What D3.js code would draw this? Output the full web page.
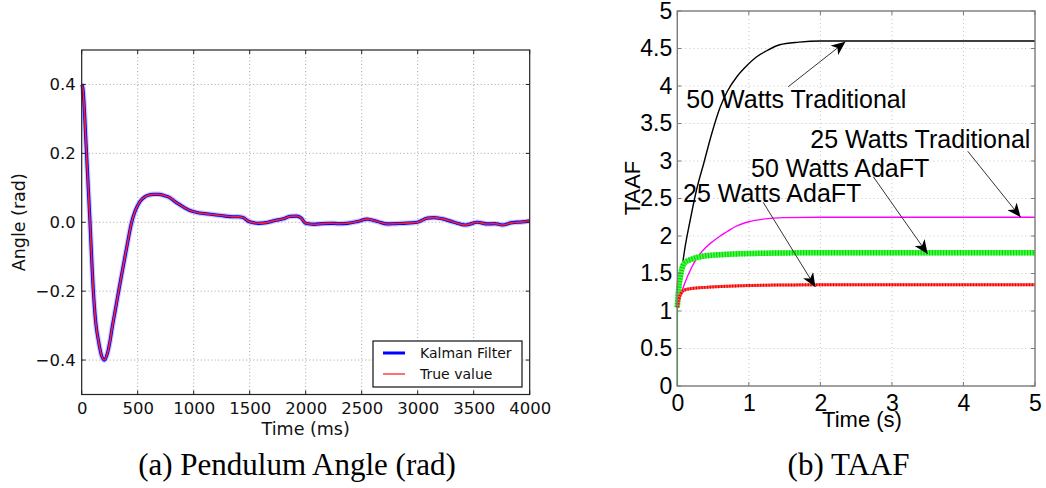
<!DOCTYPE html>
<html><head><meta charset="utf-8">
<script src="https://cdn.jsdelivr.net/npm/d3@7"></script>
<style>body{margin:0;background:#fff} svg{display:block}</style>
</head><body><svg id="c" width="1046" height="488"></svg>
<script>
// ---------- (a) Pendulum angle ----------
const angleTime = [0,10,40,74,104,125,150,175,203,230,250,275,300,327,355,381,415,446,480,520,560,600,640,690,740,790,833,880,920,960,997,1050,1131,1200,1280,1350,1399,1440,1488,1530,1578,1650,1726,1800,1860,1920,1960,2000,2074,2150,2223,2300,2372,2461,2550,2640,2729,2800,2878,2997,3086,3146,3235,3324,3428,3533,3622,3690,3756,3845,3930,4000];
const trueValue = [0.40,0.39,0.22,0.0,-0.2,-0.29,-0.345,-0.385,-0.40,-0.38,-0.35,-0.30,-0.255,-0.205,-0.155,-0.11,-0.05,0.0,0.035,0.06,0.073,0.079,0.081,0.081,0.077,0.071,0.06,0.05,0.042,0.035,0.031,0.027,0.024,0.021,0.018,0.016,0.016,0.014,0.003,-0.001,-0.003,-0.001,0.005,0.010,0.017,0.018,0.012,-0.003,-0.006,-0.004,-0.003,-0.004,-0.003,0.002,0.009,0.002,-0.005,-0.004,-0.003,0.0,0.012,0.0135,0.009,0.0,-0.008,0.0,-0.005,-0.004,-0.008,-0.001,0.001,0.004];
const kalmanValue = [0.40,0.39,0.22,0.0,-0.2,-0.29,-0.345,-0.385,-0.40,-0.38,-0.35,-0.30,-0.255,-0.205,-0.155,-0.11,-0.05,0.0,0.035,0.06,0.073,0.079,0.081,0.081,0.077,0.071,0.06,0.05,0.042,0.035,0.031,0.027,0.024,0.021,0.018,0.016,0.016,0.014,0.003,-0.001,-0.003,-0.001,0.005,0.010,0.017,0.018,0.012,-0.003,-0.006,-0.004,-0.003,-0.004,-0.003,0.002,0.009,0.002,-0.005,-0.004,-0.003,0.0,0.012,0.0135,0.009,0.0,-0.008,0.0,-0.005,-0.004,-0.008,-0.001,0.001,0.004];
const angleXTicks = [0,500,1000,1500,2000,2500,3000,3500,4000];
const angleYTicks = [-0.4,-0.2,0.0,0.2,0.4];
const angleLegend = ["Kalman Filter","True value"];

// ---------- (b) TAAF ----------
const t50Trad = [0,0.05,0.1,0.18,0.27,0.37,0.48,0.6,0.7,0.83,0.95,1.11,1.25,1.43,1.7,2.0,5];
const v50Trad = [1.05,1.45,1.8,2.21,2.62,2.97,3.36,3.72,3.93,4.12,4.25,4.39,4.47,4.55,4.585,4.6,4.6];
const t25Trad = [0,0.05,0.1,0.2,0.3,0.4,0.5,0.6,0.7,0.8,0.9,1.0,1.2,1.5,2,5];
const v25Trad = [1.05,1.22,1.36,1.58,1.74,1.85,1.93,2.0,2.06,2.12,2.16,2.19,2.225,2.245,2.25,2.25];
const t50Ada = [0,0,0.02,0.05,0.1,0.2,0.3,0.5,0.8,1.2,1.6,2,5];
const v50Ada = [0,1.05,1.3,1.5,1.64,1.69,1.72,1.745,1.76,1.77,1.775,1.777,1.777];
const t25Ada = [0,0.02,0.05,0.1,0.2,0.4,0.7,1.0,1.5,2,5];
const v25Ada = [1.05,1.15,1.23,1.28,1.30,1.315,1.33,1.34,1.347,1.35,1.35];
const taafXTicks = [0,1,2,3,4,5];
const taafYTicks = [0,0.5,1,1.5,2,2.5,3,3.5,4,4.5,5];
const taafYLabels = ["0","0.5","1","1.5","2","2.5","3","3.5","4","4.5","5"];
const annText = ["50 Watts Traditional","25 Watts Traditional","50 Watts AdaFT","25 Watts AdaFT"];
const annTextPos = [[0.126,3.71],[1.86,3.17],[1.03,2.79],[0.08,2.45]];
const annTail = [[1.55,3.99],[4.06,3.13],[2.74,2.79],[1.2,2.45]];
const annHead = [[2.35,4.59],[4.8,2.25],[3.5,1.76],[1.93,1.32]];

const svg = d3.select("#c");

// ===== Left chart =====
{
  const L = 81.7, R = 529.7, T = 50, B = 394.5;
  const x = d3.scaleLinear().domain([0,4000]).range([L,R]);
  const y = d3.scaleLinear().domain([-0.5,0.5]).range([B,T]);
  const g = svg.append("g");
  g.selectAll(".gx").data(angleXTicks.slice(1,-1)).enter().append("line")
    .attr("x1",d=>x(d)).attr("x2",d=>x(d)).attr("y1",T).attr("y2",B)
    .attr("stroke","#8a8a8a").attr("stroke-width",0.8).attr("stroke-dasharray","1,2.5");
  g.selectAll(".gy").data(angleYTicks).enter().append("line")
    .attr("y1",d=>y(d)).attr("y2",d=>y(d)).attr("x1",L).attr("x2",R)
    .attr("stroke","#8a8a8a").attr("stroke-width",0.8).attr("stroke-dasharray","1,2.5");
  const pts = angleTime.map((t,i)=>[t,kalmanValue[i]]);
  const ptsT = angleTime.map((t,i)=>[t,trueValue[i]]);
  const line = d3.line().x(d=>x(d[0])).y(d=>y(d[1])).curve(d3.curveMonotoneX);
  g.append("path").attr("d",line(pts)).attr("fill","none").attr("stroke","#6a6aff").attr("stroke-width",5.5).attr("stroke-opacity",0.35);
  g.append("path").attr("d",line(pts)).attr("fill","none").attr("stroke","#0000ff").attr("stroke-width",3.2);
  g.append("path").attr("d",line(ptsT)).attr("fill","none").attr("stroke","#ff2020").attr("stroke-width",1.6);
  g.append("rect").attr("x",L).attr("y",T).attr("width",R-L).attr("height",B-T)
    .attr("fill","none").attr("stroke","#222").attr("stroke-width",1.2);
  const ax = d3.axisBottom(x).tickValues(angleXTicks).tickSize(0).tickPadding(8).tickFormat(d3.format("d"));
  const axg = g.append("g").attr("transform",`translate(0,${B})`).call(ax);
  axg.select(".domain").remove();
  axg.selectAll("text").attr("font-family","DejaVu Sans").attr("font-size",16.5).attr("fill","#111");
  const ay = d3.axisLeft(y).tickValues(angleYTicks).tickSize(0).tickPadding(6).tickFormat(d=>d3.format(".1f")(d).replace("-","\u2212"));
  const ayg = g.append("g").attr("transform",`translate(${L},0)`).call(ay);
  ayg.select(".domain").remove();
  ayg.selectAll("text").attr("font-family","DejaVu Sans").attr("font-size",16.5).attr("fill","#111");
  angleXTicks.forEach(d=>{
    g.append("line").attr("x1",x(d)).attr("x2",x(d)).attr("y1",B).attr("y2",B-4).attr("stroke","#222");
    g.append("line").attr("x1",x(d)).attr("x2",x(d)).attr("y1",T).attr("y2",T+4).attr("stroke","#222");
  });
  angleYTicks.forEach(d=>{
    g.append("line").attr("y1",y(d)).attr("y2",y(d)).attr("x1",L).attr("x2",L+4).attr("stroke","#222");
    g.append("line").attr("y1",y(d)).attr("y2",y(d)).attr("x1",R).attr("x2",R-4).attr("stroke","#222");
  });
  g.append("text").attr("x",(L+R)/2).attr("y",435).attr("text-anchor","middle")
    .attr("font-family","DejaVu Sans").attr("font-size",17.5).attr("fill","#111").text("Time (ms)");
  g.append("text").attr("transform",`translate(25,${(T+B)/2}) rotate(-90)`).attr("text-anchor","middle")
    .attr("font-family","DejaVu Sans").attr("font-size",17.5).attr("fill","#111").text("Angle (rad)");
  const lg = g.append("g");
  lg.append("rect").attr("x",373).attr("y",341).attr("width",149).attr("height",46)
    .attr("fill","#fff").attr("stroke","#111").attr("stroke-width",1.2);
  const lc = ["#0000ff","#ff6060"], lw=[3,1.8];
  angleLegend.forEach((s,i)=>{
    const yy = 353 + i*21;
    lg.append("line").attr("x1",383).attr("x2",405).attr("y1",yy).attr("y2",yy).attr("stroke",lc[i]).attr("stroke-width",lw[i]);
    lg.append("text").attr("x",420).attr("y",yy+5).attr("font-family","DejaVu Sans").attr("font-size",14).attr("fill","#111").text(s);
  });
  svg.append("text").attr("x",297).attr("y",475).attr("text-anchor","middle")
    .attr("font-family","Liberation Serif").attr("font-size",31).attr("fill","#000").text("(a) Pendulum Angle (rad)");
}

// ===== Right chart =====
{
  const L = 677.3, R = 1035, T = 11, B = 386;
  const x = d3.scaleLinear().domain([0,5]).range([L,R]);
  const y = d3.scaleLinear().domain([0,5]).range([B,T]);
  const g = svg.append("g");
  g.selectAll(".gx").data(taafXTicks.slice(1,-1)).enter().append("line")
    .attr("x1",d=>x(d)).attr("x2",d=>x(d)).attr("y1",T).attr("y2",B)
    .attr("stroke","#b5b5b5").attr("stroke-width",0.8).attr("stroke-dasharray","1,3");
  g.selectAll(".gy").data(taafYTicks.slice(1,-1)).enter().append("line")
    .attr("y1",d=>y(d)).attr("y2",d=>y(d)).attr("x1",L).attr("x2",R)
    .attr("stroke","#b5b5b5").attr("stroke-width",0.8).attr("stroke-dasharray","1,3");
  const mk = (ts,vs)=>ts.map((t,i)=>[t,vs[i]]);
  const line = d3.line().x(d=>x(d[0])).y(d=>y(d[1])).curve(d3.curveMonotoneX);
  const lineL = d3.line().x(d=>x(d[0])).y(d=>y(d[1]));
  g.append("path").attr("d",line(mk(t50Trad,v50Trad))).attr("fill","none").attr("stroke","#000").attr("stroke-width",1.4);
  g.append("path").attr("d",line(mk(t25Trad,v25Trad))).attr("fill","none").attr("stroke","#ff00ff").attr("stroke-width",1.4);
  const gp = mk(t50Ada,v50Ada);
  g.append("path").attr("d",lineL(gp.slice(0,2))).attr("fill","none").attr("stroke","#22dd22").attr("stroke-width",1.5);
  g.append("path").attr("d",line(gp.slice(1))).attr("fill","none").attr("stroke","#44ff44").attr("stroke-width",5.5);
  g.append("path").attr("d",line(gp.slice(1))).attr("fill","none").attr("stroke","#10d010").attr("stroke-width",5.5).attr("stroke-dasharray","1.2,1.6");
  const rp = mk(t25Ada,v25Ada);
  g.append("path").attr("d",line(rp)).attr("fill","none").attr("stroke","#ff5050").attr("stroke-width",3);
  g.append("path").attr("d",line(rp)).attr("fill","none").attr("stroke","#ee0000").attr("stroke-width",3).attr("stroke-dasharray","1.2,1.6");
  g.append("rect").attr("x",L).attr("y",T).attr("width",R-L).attr("height",B-T)
    .attr("fill","none").attr("stroke","#7a7a7a").attr("stroke-width",1.4);
  taafXTicks.forEach(d=>{
    g.append("line").attr("x1",x(d)).attr("x2",x(d)).attr("y1",B).attr("y2",B-4).attr("stroke","#7a7a7a");
    g.append("line").attr("x1",x(d)).attr("x2",x(d)).attr("y1",T).attr("y2",T+4).attr("stroke","#7a7a7a");
  });
  taafYTicks.forEach(d=>{
    g.append("line").attr("y1",y(d)).attr("y2",y(d)).attr("x1",L).attr("x2",L+4).attr("stroke","#7a7a7a");
    g.append("line").attr("y1",y(d)).attr("y2",y(d)).attr("x1",R).attr("x2",R-4).attr("stroke","#7a7a7a");
  });
  const ax = d3.axisBottom(x).tickValues(taafXTicks).tickSize(0).tickPadding(9).tickFormat(d3.format("d"));
  const axg = g.append("g").attr("transform",`translate(0,${B})`).call(ax);
  axg.select(".domain").remove();
  axg.selectAll("text").attr("font-family","Liberation Sans").attr("font-size",23).attr("fill","#000");
  const ay = d3.axisLeft(y).tickValues(taafYTicks).tickSize(0).tickPadding(5).tickFormat((d,i)=>taafYLabels[i]);
  const ayg = g.append("g").attr("transform",`translate(${L},0)`).call(ay);
  ayg.select(".domain").remove();
  ayg.selectAll("text").attr("font-family","Liberation Sans").attr("font-size",23).attr("fill","#000");
  g.append("text").attr("x",862).attr("y",427).attr("text-anchor","middle")
    .attr("font-family","Liberation Sans").attr("font-size",22).attr("fill","#000").text("Time (s)");
  g.append("text").attr("transform",`translate(640,188) rotate(-90)`).attr("text-anchor","middle")
    .attr("font-family","Liberation Sans").attr("font-size",22).attr("fill","#000").text("TAAF");
  const defs = svg.append("defs");
  defs.append("marker").attr("id","ah").attr("markerUnits","userSpaceOnUse")
    .attr("markerWidth",16).attr("markerHeight",12).attr("refX",14).attr("refY",6).attr("orient","auto")
    .append("path").attr("d","M14,6 L0,0 L4,6 L0,12 Z").attr("fill","#000");
  annText.forEach((s,i)=>{
    g.append("line").attr("x1",x(annTail[i][0])).attr("y1",y(annTail[i][1]))
      .attr("x2",x(annHead[i][0])).attr("y2",y(annHead[i][1]))
      .attr("stroke","#333").attr("stroke-width",1).attr("marker-end","url(#ah)");
  });
  annText.forEach((s,i)=>{
    g.append("text").attr("x",x(annTextPos[i][0])).attr("y",y(annTextPos[i][1]))
      .attr("font-family","Liberation Sans").attr("font-size",25).attr("fill","#000").text(s);
  });
  svg.append("text").attr("x",848.5).attr("y",475).attr("text-anchor","middle")
    .attr("font-family","Liberation Serif").attr("font-size",31).attr("fill","#000").text("(b) TAAF");
}
</script></body></html>
